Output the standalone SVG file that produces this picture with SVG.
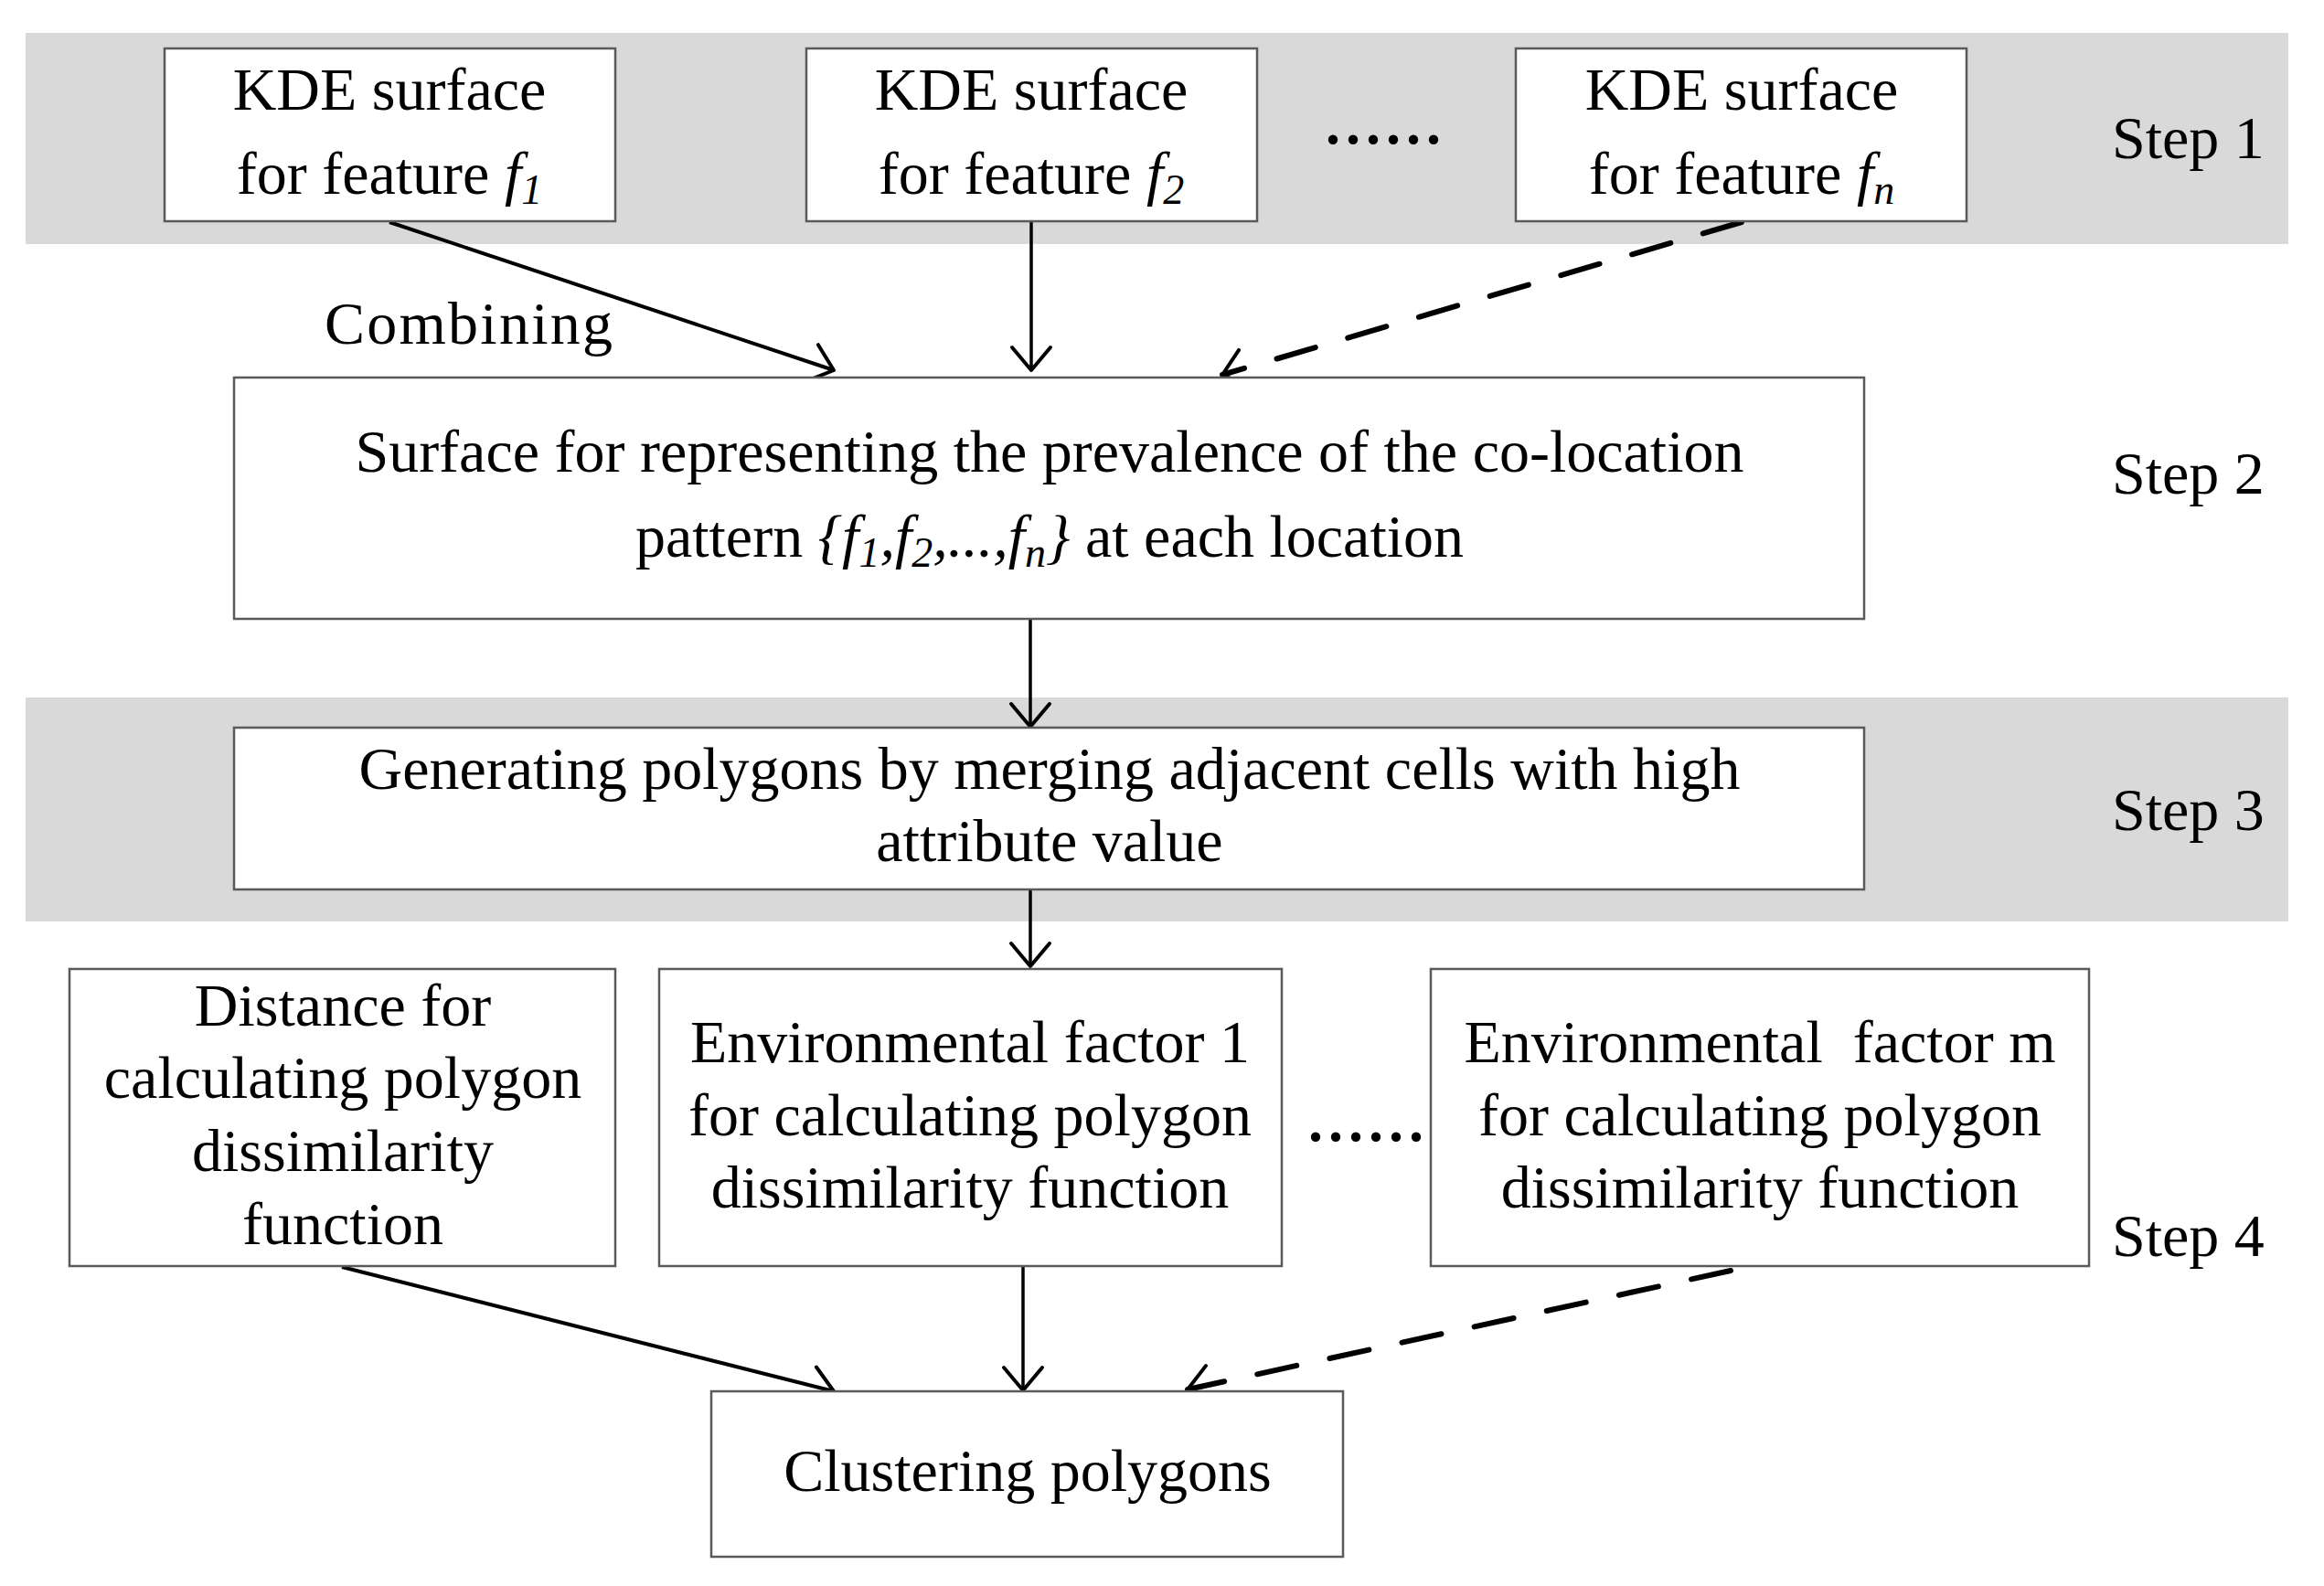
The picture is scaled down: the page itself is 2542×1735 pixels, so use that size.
<svg xmlns="http://www.w3.org/2000/svg" width="2542" height="1735" viewBox="0 0 2542 1735">
<style>
text{font-family:"Liberation Serif","Times New Roman",serif;font-size:66px;fill:#000;}
.c{text-anchor:middle;}
.i{font-style:italic;}
.s{font-style:italic;font-size:46px;}
.pre{white-space:pre;}
.band{fill:#d9d9d9;}
.box{fill:#fff;stroke:#5a5a5a;stroke-width:2.5;}
.ln{fill:none;stroke:#000;stroke-width:3.5;marker-end:url(#ah);}
.dash{fill:none;stroke:#000;stroke-width:6;stroke-dasharray:44 37;stroke-linecap:round;marker-end:url(#ah);}
.dots{font-size:88px;}
</style>
<defs>
<marker id="ah" markerUnits="userSpaceOnUse" markerWidth="60" markerHeight="60" viewBox="-40 -30 50 60" refX="0" refY="0" orient="auto" overflow="visible">
<path d="M -25 -21 L 0 0 L -25 21" fill="none" stroke="#000" stroke-width="4" stroke-linecap="round" stroke-linejoin="round"/>
</marker>
</defs>
<g id="bands">
<rect class="band" x="28" y="36" width="2475" height="231"/>
<rect class="band" x="28" y="763" width="2475" height="245"/>
</g>
<g id="connectors">
<line class="ln" x1="426" y1="243" x2="912" y2="405" style="stroke-width:4"/>
<line class="ln" x1="1128" y1="243" x2="1128" y2="405"/>
<line class="dash" x1="1905" y1="243" x2="1337" y2="410"/>
<line class="ln" x1="1127" y1="678" x2="1127" y2="795"/>
<line class="ln" x1="1127" y1="973" x2="1127" y2="1057"/>
<line class="ln" x1="374" y1="1386" x2="912" y2="1522" style="stroke-width:4"/>
<line class="ln" x1="1119" y1="1386" x2="1119" y2="1521"/>
<line class="dash" x1="1893" y1="1390" x2="1299" y2="1520"/>
</g>
<g id="kde1">
<rect class="box" x="180" y="53" width="493" height="189"/>
<text class="c" x="426" y="120">KDE surface</text>
<text class="c" x="426" y="212">for feature <tspan class="i">f</tspan><tspan class="s" dy="11">1</tspan></text>
</g>
<g id="kde2">
<rect class="box" x="882" y="53" width="493" height="189"/>
<text class="c" x="1128" y="120">KDE surface</text>
<text class="c" x="1128" y="212">for feature <tspan class="i">f</tspan><tspan class="s" dy="11">2</tspan></text>
</g>
<text class="dots" x="1447" y="157">......</text>
<g id="kden">
<rect class="box" x="1658" y="53" width="493" height="189"/>
<text class="c" x="1905" y="120">KDE surface</text>
<text class="c" x="1905" y="212">for feature <tspan class="i">f</tspan><tspan class="s" dy="11">n</tspan></text>
</g>
<text x="2310" y="173">Step 1</text>
<text x="355" y="376" textLength="315">Combining</text>
<g id="surface">
<rect class="box" x="256" y="413" width="1783" height="264"/>
<text class="c" x="1148" y="516">Surface for representing the prevalence of the co-location</text>
<text class="c" x="1148" y="609">pattern <tspan class="i">{f</tspan><tspan class="s" dy="11">1</tspan><tspan class="i" dy="-11">,f</tspan><tspan class="s" dy="11">2</tspan><tspan class="i" dy="-11">,...,f</tspan><tspan class="s" dy="11">n</tspan><tspan class="i" dy="-11">}</tspan> at each location</text>
</g>
<text x="2310" y="540">Step 2</text>
<g id="generating">
<rect class="box" x="256" y="796" width="1783" height="177"/>
<text class="c" x="1148" y="863">Generating polygons by merging adjacent cells with high</text>
<text class="c" x="1148" y="942">attribute value</text>
</g>
<text x="2310" y="908">Step 3</text>
<g id="distance">
<rect class="box" x="76" y="1060" width="597" height="325"/>
<text class="c" x="375" y="1122">Distance for</text>
<text class="c" x="375" y="1201">calculating polygon</text>
<text class="c" x="375" y="1281">dissimilarity</text>
<text class="c" x="375" y="1361">function</text>
</g>
<g id="env1">
<rect class="box" x="721" y="1060" width="681" height="325"/>
<text class="c" x="1061" y="1162">Environmental factor 1</text>
<text class="c" x="1061" y="1242">for calculating polygon</text>
<text class="c" x="1061" y="1321">dissimilarity function</text>
</g>
<text class="dots" x="1428" y="1248">......</text>
<g id="envm">
<rect class="box" x="1565" y="1060" width="720" height="325"/>
<text class="c pre" x="1925" y="1162">Environmental  factor m</text>
<text class="c" x="1925" y="1242">for calculating polygon</text>
<text class="c" x="1925" y="1321">dissimilarity function</text>
</g>
<text x="2310" y="1374">Step 4</text>
<g id="clustering">
<rect class="box" x="778" y="1522" width="691" height="181"/>
<text class="c" x="1124" y="1631">Clustering polygons</text>
</g>
</svg>
